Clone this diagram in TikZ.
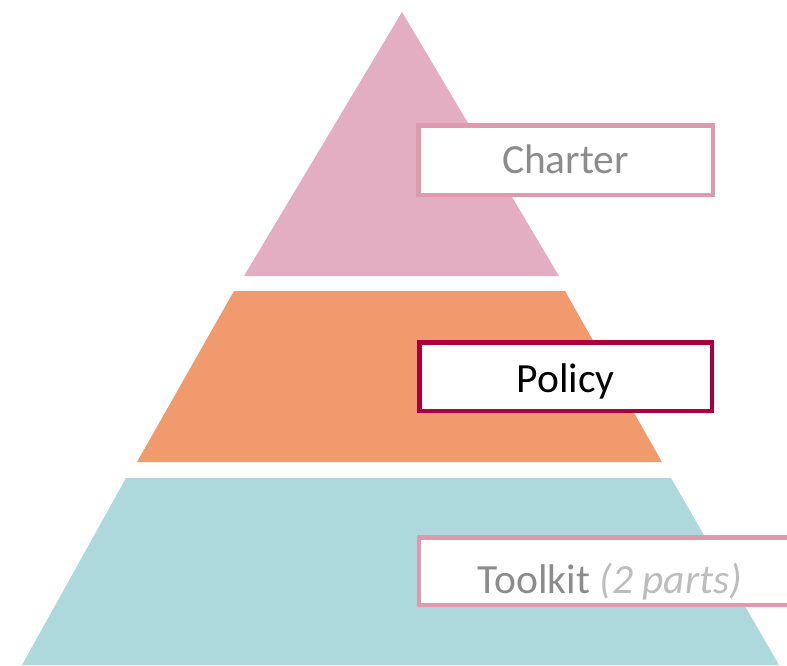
\documentclass[tikz,border=0pt]{standalone}
\usepackage{fontspec}
\setmainfont{Carlito}
\definecolor{tierpink}{HTML}{E3ADC2}
\definecolor{tierorange}{HTML}{F09A6E}
\definecolor{tierteal}{HTML}{AED9DC}
\definecolor{boxpink}{HTML}{E09AB0}
\definecolor{boxred}{HTML}{A8003C}
\definecolor{txtgray}{HTML}{8C8C8C}
\definecolor{txtlight}{HTML}{BDBDBD}
\begin{document}
\begin{tikzpicture}[x=1pt,y=-1pt,
  labelbox/.style={draw, line width=4.5pt, fill=white, inner sep=0pt, text depth=0pt, font=\fontsize{41.5}{48}\selectfont},
  softbox/.style={labelbox, draw=boxpink, text=txtgray},
  strongbox/.style={labelbox, draw=boxred, text=black}]
\useasboundingbox (0,0) rectangle (787,665);
\clip (0,0) rectangle (787,665);
% tiers
\fill[tierpink] (402,12) -- (559,276) -- (244,276) -- cycle;
\fill[tierorange] (234,291) -- (565,291) -- (662,462) -- (137,462) -- cycle;
\fill[tierteal] (126,478) -- (671,478) -- (779,665) -- (22,665) -- cycle;
% label boxes
\node[softbox, text height=26pt, minimum width=294.5pt, minimum height=69.5pt] (charter) at (565.5,160) {Charter};
\node[strongbox, text height=31pt, minimum width=292.5pt, minimum height=68.5pt] (policy) at (565.5,376.5) {Policy};
\node[softbox, text height=44pt, minimum width=382pt, minimum height=67.5pt] (toolkit) at (610,571) {Toolkit \textcolor{txtlight}{\itshape (2 parts)}};
\end{tikzpicture}
\end{document}
